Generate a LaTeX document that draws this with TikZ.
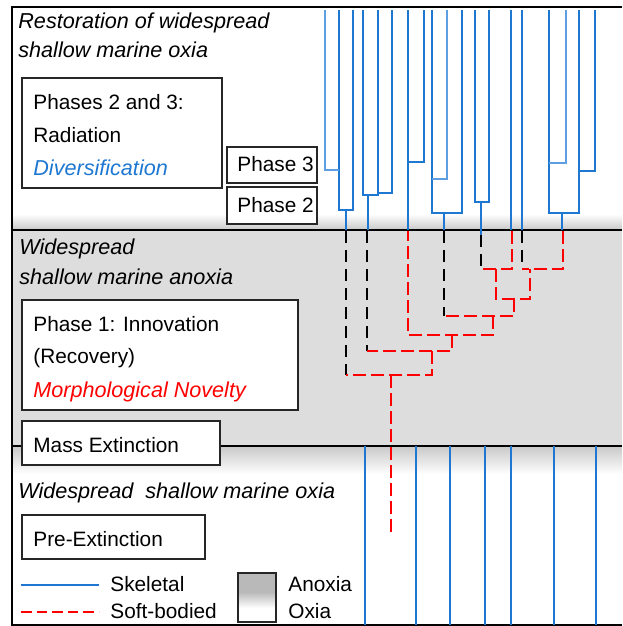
\documentclass[tikz,border=0pt]{standalone}
\usepackage{fontspec}
\setmainfont{Liberation Sans}
\usepackage{xcolor}
\usetikzlibrary{fit}
\definecolor{skelblue}{HTML}{1E78D2}
\definecolor{thinblue}{HTML}{5E9FE2}
\definecolor{anoxgray}{HTML}{DDDDDD}
\definecolor{bandgray}{HTML}{C8C8C8}
\tikzstyle{skel} = [draw=skelblue, line width=1.3pt]
\tikzstyle{thinskel} = [draw=thinblue, line width=0.9pt]
\tikzstyle{soft} = [draw=red, line width=1.2pt, dash pattern=on 6.5pt off 2.5pt]
\tikzstyle{ghost} = [draw=black, line width=1.1pt, dash pattern=on 6pt off 3.5pt]
\tikzstyle{zone} = [draw=black, line width=1pt]
\tikzstyle{box} = [draw=black!85, line width=0.6pt, fill=white, inner sep=0pt]
\tikzstyle{txt} = [anchor=base west, inner sep=0pt]
\tikzstyle{itxt} = [txt, font=\fontsize{10.8pt}{12pt}\selectfont\itshape]

\begin{document}
\begin{tikzpicture}[x=0.5pt,y=-0.5pt,font=\fontsize{10.4pt}{12pt}\selectfont]
  \useasboundingbox (0,0) rectangle (622,626);
  % zones
  \fill[anoxgray] (12,230) rectangle (622,446);
  \shade[top color=white, bottom color=bandgray] (12,214) rectangle (622,230);
  \shade[top color=bandgray, bottom color=white] (12,446) rectangle (622,474);
  \draw[zone] (622,7) -- (12,7) -- (12,625) -- (622,625);
  \draw[zone] (12,230) -- (622,230);
  \draw[zone] (12,446) -- (622,446);

  % radiation (skeletal)
  \draw[skel] (339,10) |- (353,210) -- (353,10);
  \draw[thinskel] (325,10) |- (339,170);
  \draw[skel] (346,210) -- (346,230);
  \draw[skel] (363,10) |- (378,195) -- (378,10);
  \draw[skel] (378,193) -| (392,10);
  \draw[skel] (368,195) -- (368,230);
  \draw[skel] (408,10) -- (408,230);
  \draw[skel] (408,162) -| (424,10);
  \draw[skel] (432,10) |- (462,213) -- (462,10);
  \draw[thinskel] (432,179) -| (447,10);
  \draw[skel] (444,213) -- (444,230);
  \draw[skel] (475,10) |- (489,202) -- (489,10);
  \draw[skel] (481,202) -- (481,235);
  \draw[skel] (511,10) -- (511,230);
  \draw[skel] (522,10) -- (522,230);
  \draw[skel] (549,10) |- (579,213) -- (579,10);
  \draw[thinskel] (549,163) -| (566,10);
  \draw[skel] (579,171) -| (595,10);
  \draw[skel] (562,213) -- (562,230);

  % innovation (soft-bodied)
  \draw[ghost] (346,231) -- (346,375);
  \draw[ghost] (367,231) -- (367,351);
  \draw[ghost] (444,231) -- (444,316);
  \draw[ghost] (481,235) -- (481,269);
  \draw[ghost] (522,231) -- (522,269);
  \draw[soft] (512,231) |- (481,269);
  \draw[soft] (563,231) |- (522,269);
  \draw[soft] (496,269) |- (530,299) -- (530,269);
  \draw[soft] (514,299) |- (444,316);
  \draw[soft] (493,316) |- (408,335) -- (408,231);
  \draw[soft] (452,335) |- (367,351);
  \draw[soft] (432,351) |- (346,375);
  \draw[soft] (391,375) -- (391,535);

  % pre-extinction
  \foreach \x in {365,416,450,485,511,554,596}
    \draw[skel] (\x,446) -- (\x,625);

  % boxes
  \node[box, fit={(22,78) (222,188)}] (radbox) {};
  \node[box, fit={(227,147) (317,183)}] (ph3box) {};
  \node[box, fit={(227,187) (317,224)}] (ph2box) {};
  \node[box, fit={(22,300) (298,410)}] (innobox) {};
  \node[box, fit={(22,421) (220,465)}] (extbox) {};
  \node[box, fit={(22,515) (205,559)}] (prebox) {};

  % texts
  \node[itxt] (restore1) at (18,29) {Restoration of widespread};
  \node[itxt] (restore2) at (18,58) {shallow marine oxia};
  \node[txt] (radtitle) at (33,110) {Phases 2 and 3:};
  \node[txt] (radname) at (33,142) {Radiation};
  \node[itxt, text=skelblue] (radtype) at (33,175) {Diversification};
  \node[txt] (ph3) at (237,171) {Phase 3};
  \node[txt] (ph2) at (237,212) {Phase 2};
  \node[itxt] (anox1) at (19,254) {Widespread};
  \node[itxt] (anox2) at (19,284) {shallow marine anoxia};
  \node[txt] (innotitle) at (33,331) {Phase 1: Innovation};
  \node[txt] (innoname) at (33,363) {(Recovery)};
  \node[itxt, text=red] (innotype) at (33,397) {Morphological Novelty};
  \node[txt] (massext) at (33,452) {Mass Extinction};
  \node[itxt] (oxia) at (18,498) {Widespread\ \ shallow marine oxia};
  \node[txt] (preext) at (33,546) {Pre-Extinction};

  % legend
  \coordinate (skelA) at (21,585);
  \coordinate (skelB) at (99,585);
  \coordinate (softA) at (21,612);
  \coordinate (softB) at (99,612);
  \draw[skel] (skelA) -- (skelB);
  \draw[soft, dash pattern=on 5.3pt off 2.5pt] (softA) -- (softB);
  \node[txt] (legskel) at (110,591) {Skeletal};
  \node[txt] (legsoft) at (110,618) {Soft-bodied};
  \fill[gray!55] (238,573) rectangle (276,592);
  \shade[top color=gray!55, bottom color=white] (238,592) rectangle (276,608);
  \node[box, fill=none, fit={(238,573) (276,622)}] (legbox) {};
  \node[txt] (leganox) at (288,591) {Anoxia};
  \node[txt] (legoxia) at (288,618) {Oxia};
\end{tikzpicture}
\end{document}
